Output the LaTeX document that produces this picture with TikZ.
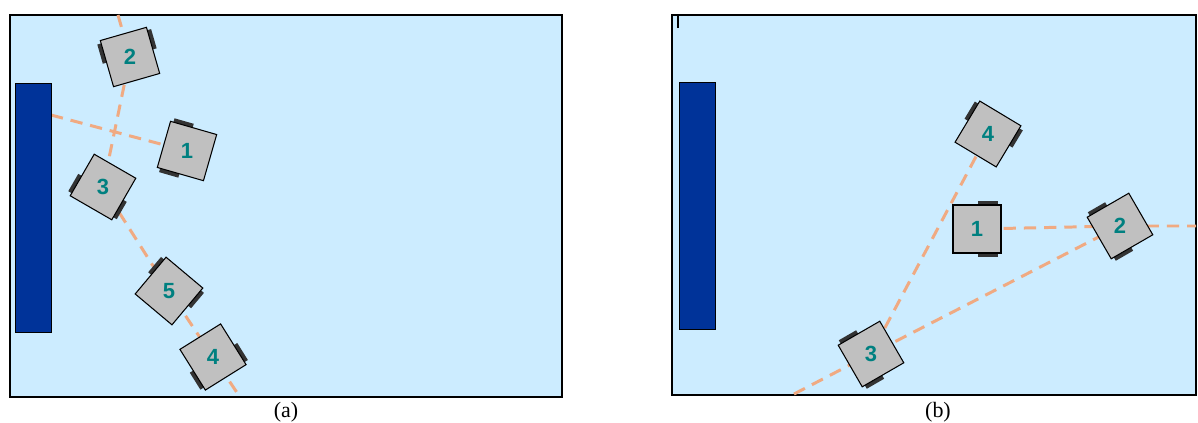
\documentclass[tikz,border=0pt]{standalone}
\usepackage{fontspec}
\setmainfont{Liberation Serif}
\setsansfont{Liberation Sans}
\usepackage{xcolor}
\usepackage{tikz}
\usetikzlibrary{positioning, calc}
\definecolor{arenaBlue}{RGB}{204, 236, 255}
\definecolor{wallBlue}{RGB}{0, 51, 153}
\definecolor{robotGray}{RGB}{192, 192, 192}
\definecolor{linkPeach}{RGB}{240, 170, 130}
\definecolor{numTeal}{RGB}{0, 128, 128}
\pgfdeclarelayer{bg}
\pgfdeclarelayer{links}
\pgfsetlayers{bg,links,main}
% robot: name, position, heading, number
\newcommand{\drawrobot}[4]{%
  \begin{scope}[shift={#2}, rotate=#3]
    \fill[track] (1,-28) rectangle (21,-22);
    \fill[track] (1,22) rectangle (21,28);
    \filldraw[body] (-24,-24) rectangle (24,24);
  \end{scope}
  \node[num] (#1) at #2 {#4};
}

\begin{document}
\begin{tikzpicture}[
    x=0.02cm, y=-0.02cm,
    arena/.style={draw=black, line width=1.2pt, fill=arenaBlue},
    wall/.style={draw=black, line width=0.4pt, fill=wallBlue},
    body/.style={draw=black, line width=0.6pt, fill=robotGray},
    track/.style={fill=black!80},
    num/.style={inner sep=0pt, text=numTeal, font=\fontsize{12.5}{12.5}\selectfont\sffamily\bfseries},
    link/.style={draw=linkPeach, line width=1.7pt, dash pattern=on 7pt off 4.5pt},
    sublabel/.style={font=\fontsize{12.5}{14}\selectfont}
]
\useasboundingbox (0,0) rectangle (1198,423);
\begin{pgfonlayer}{bg}
  \draw[arena] (10,15) rectangle (562,397);
  \draw[arena] (672,15) rectangle (1196,395);
\end{pgfonlayer}

% (a)
\draw[wall] (15,83) rectangle (51,332);
\coordinate (aw) at (51,115);
\coordinate (atop) at (118,15);
\coordinate (abot) at (240,397);
\drawrobot{a2}{(130,57)}{106}{2}
\drawrobot{a1}{(187,151)}{164}{1}
\drawrobot{a3}{(103,187)}{240}{3}
\drawrobot{a5}{(169,291)}{50}{5}
\drawrobot{a4}{(213,357)}{-58}{4}
\node[sublabel] (capa) at (286,412) {(a)};

% (b)
\draw[wall] (679,82) rectangle (715,329);
\draw[line width=1.2pt] (678,16) -- (678,28);
\coordinate (bright) at (1196,226);
\coordinate (bleft) at (794,394);
\drawrobot{b4}{(988,134)}{59}{4}
\drawrobot{b1}{(977,229)}{0}{1}
\drawrobot{b2}{(1120,226)}{210}{2}
\drawrobot{b3}{(871,354)}{210}{3}
\node[sublabel] (capb) at (938,412) {(b)};

\begin{pgfonlayer}{links}
  \draw[link] (aw) -- (a1);
  \draw[link] (atop) -- (a2) -- (a3);
  \draw[link] (a3) -- (a5) -- (a4) -- (abot);
  \draw[link] (b1) -- (b2) -- (bright);
  \draw[link] (bleft) -- (b3) -- (b2);
  \draw[link] (b3) -- (b4);
\end{pgfonlayer}
\end{tikzpicture}
\end{document}
